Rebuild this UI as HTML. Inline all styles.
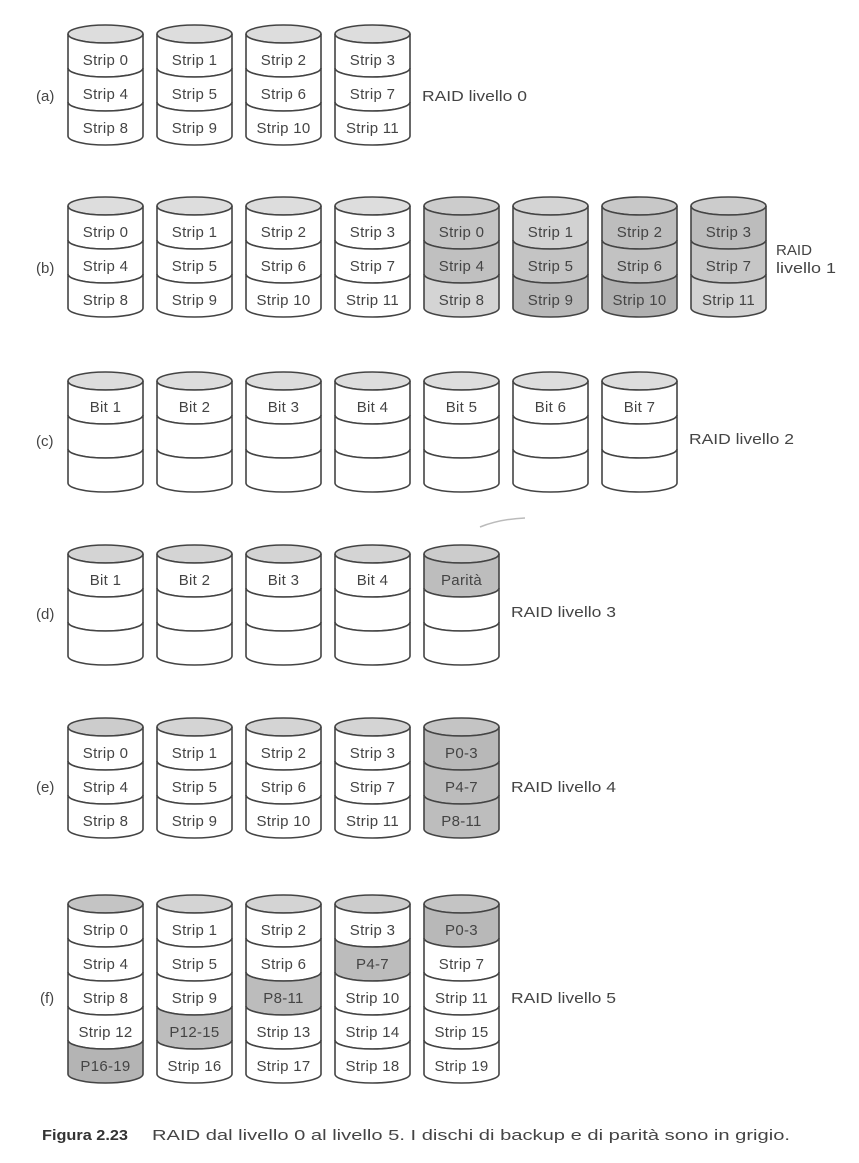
<!DOCTYPE html>
<html><head><meta charset="utf-8"><style>
html,body{margin:0;padding:0;background:#fff;}
svg{display:block;}
text{font-family:"Liberation Sans",sans-serif;fill:#444;font-size:15px;}
.t{text-anchor:middle;letter-spacing:0.3px;}
.b{stroke:#444;stroke-width:1.6;}
</style></head><body>
<svg width="859" height="1163" viewBox="0 0 859 1163" xmlns="http://www.w3.org/2000/svg">
<defs>
<path id="bd" d="M0,0 A37.5,9 0 0 0 75,0 V34 A37.5,9 0 0 1 0,34 Z"/>
<ellipse id="tp" cx="37.5" cy="0" rx="37.5" ry="9"/>
</defs>
<g class="b">
<g transform="translate(68,34)"><use href="#tp" fill="#ddd"/><use href="#bd" fill="#fff"/><use href="#bd" y="34" fill="#fff"/><use href="#bd" y="68" fill="#fff"/></g>
<g transform="translate(157,34)"><use href="#tp" fill="#ddd"/><use href="#bd" fill="#fff"/><use href="#bd" y="34" fill="#fff"/><use href="#bd" y="68" fill="#fff"/></g>
<g transform="translate(246,34)"><use href="#tp" fill="#ddd"/><use href="#bd" fill="#fff"/><use href="#bd" y="34" fill="#fff"/><use href="#bd" y="68" fill="#fff"/></g>
<g transform="translate(335,34)"><use href="#tp" fill="#ddd"/><use href="#bd" fill="#fff"/><use href="#bd" y="34" fill="#fff"/><use href="#bd" y="68" fill="#fff"/></g>
<g transform="translate(68,206)"><use href="#tp" fill="#ddd"/><use href="#bd" fill="#fff"/><use href="#bd" y="34" fill="#fff"/><use href="#bd" y="68" fill="#fff"/></g>
<g transform="translate(157,206)"><use href="#tp" fill="#ddd"/><use href="#bd" fill="#fff"/><use href="#bd" y="34" fill="#fff"/><use href="#bd" y="68" fill="#fff"/></g>
<g transform="translate(246,206)"><use href="#tp" fill="#ddd"/><use href="#bd" fill="#fff"/><use href="#bd" y="34" fill="#fff"/><use href="#bd" y="68" fill="#fff"/></g>
<g transform="translate(335,206)"><use href="#tp" fill="#ddd"/><use href="#bd" fill="#fff"/><use href="#bd" y="34" fill="#fff"/><use href="#bd" y="68" fill="#fff"/></g>
<g transform="translate(424,206)"><use href="#tp" fill="#ccc"/><use href="#bd" fill="#c4c4c4"/><use href="#bd" y="34" fill="#c0c0c0"/><use href="#bd" y="68" fill="#d4d4d4"/></g>
<g transform="translate(513,206)"><use href="#tp" fill="#d4d4d4"/><use href="#bd" fill="#d2d2d2"/><use href="#bd" y="34" fill="#c4c4c4"/><use href="#bd" y="68" fill="#b8b8b8"/></g>
<g transform="translate(602,206)"><use href="#tp" fill="#c8c8c8"/><use href="#bd" fill="#bdbdbd"/><use href="#bd" y="34" fill="#c2c2c2"/><use href="#bd" y="68" fill="#b0b0b0"/></g>
<g transform="translate(691,206)"><use href="#tp" fill="#ccc"/><use href="#bd" fill="#bcbcbc"/><use href="#bd" y="34" fill="#c6c6c6"/><use href="#bd" y="68" fill="#d2d2d2"/></g>
<g transform="translate(68,381)"><use href="#tp" fill="#ddd"/><use href="#bd" fill="#fff"/><use href="#bd" y="34" fill="#fff"/><use href="#bd" y="68" fill="#fff"/></g>
<g transform="translate(157,381)"><use href="#tp" fill="#ddd"/><use href="#bd" fill="#fff"/><use href="#bd" y="34" fill="#fff"/><use href="#bd" y="68" fill="#fff"/></g>
<g transform="translate(246,381)"><use href="#tp" fill="#ddd"/><use href="#bd" fill="#fff"/><use href="#bd" y="34" fill="#fff"/><use href="#bd" y="68" fill="#fff"/></g>
<g transform="translate(335,381)"><use href="#tp" fill="#ddd"/><use href="#bd" fill="#fff"/><use href="#bd" y="34" fill="#fff"/><use href="#bd" y="68" fill="#fff"/></g>
<g transform="translate(424,381)"><use href="#tp" fill="#ddd"/><use href="#bd" fill="#fff"/><use href="#bd" y="34" fill="#fff"/><use href="#bd" y="68" fill="#fff"/></g>
<g transform="translate(513,381)"><use href="#tp" fill="#ddd"/><use href="#bd" fill="#fff"/><use href="#bd" y="34" fill="#fff"/><use href="#bd" y="68" fill="#fff"/></g>
<g transform="translate(602,381)"><use href="#tp" fill="#ddd"/><use href="#bd" fill="#fff"/><use href="#bd" y="34" fill="#fff"/><use href="#bd" y="68" fill="#fff"/></g>
<g transform="translate(68,554)"><use href="#tp" fill="#d4d4d4"/><use href="#bd" fill="#fff"/><use href="#bd" y="34" fill="#fff"/><use href="#bd" y="68" fill="#fff"/></g>
<g transform="translate(157,554)"><use href="#tp" fill="#d4d4d4"/><use href="#bd" fill="#fff"/><use href="#bd" y="34" fill="#fff"/><use href="#bd" y="68" fill="#fff"/></g>
<g transform="translate(246,554)"><use href="#tp" fill="#d4d4d4"/><use href="#bd" fill="#fff"/><use href="#bd" y="34" fill="#fff"/><use href="#bd" y="68" fill="#fff"/></g>
<g transform="translate(335,554)"><use href="#tp" fill="#d4d4d4"/><use href="#bd" fill="#fff"/><use href="#bd" y="34" fill="#fff"/><use href="#bd" y="68" fill="#fff"/></g>
<g transform="translate(424,554)"><use href="#tp" fill="#ccc"/><use href="#bd" fill="#bdbdbd"/><use href="#bd" y="34" fill="#fff"/><use href="#bd" y="68" fill="#fff"/></g>
<g transform="translate(68,727)"><use href="#tp" fill="#ccc"/><use href="#bd" fill="#fff"/><use href="#bd" y="34" fill="#fff"/><use href="#bd" y="68" fill="#fff"/></g>
<g transform="translate(157,727)"><use href="#tp" fill="#d4d4d4"/><use href="#bd" fill="#fff"/><use href="#bd" y="34" fill="#fff"/><use href="#bd" y="68" fill="#fff"/></g>
<g transform="translate(246,727)"><use href="#tp" fill="#d4d4d4"/><use href="#bd" fill="#fff"/><use href="#bd" y="34" fill="#fff"/><use href="#bd" y="68" fill="#fff"/></g>
<g transform="translate(335,727)"><use href="#tp" fill="#d4d4d4"/><use href="#bd" fill="#fff"/><use href="#bd" y="34" fill="#fff"/><use href="#bd" y="68" fill="#fff"/></g>
<g transform="translate(424,727)"><use href="#tp" fill="#c4c4c4"/><use href="#bd" fill="#b8b8b8"/><use href="#bd" y="34" fill="#bcbcbc"/><use href="#bd" y="68" fill="#bdbdbd"/></g>
<g transform="translate(68,904)"><use href="#tp" fill="#c4c4c4"/><use href="#bd" fill="#fff"/><use href="#bd" y="34" fill="#fff"/><use href="#bd" y="68" fill="#fff"/><use href="#bd" y="102" fill="#fff"/><use href="#bd" y="136" fill="#b4b4b4"/></g>
<g transform="translate(157,904)"><use href="#tp" fill="#d4d4d4"/><use href="#bd" fill="#fff"/><use href="#bd" y="34" fill="#fff"/><use href="#bd" y="68" fill="#fff"/><use href="#bd" y="102" fill="#bdbdbd"/><use href="#bd" y="136" fill="#fff"/></g>
<g transform="translate(246,904)"><use href="#tp" fill="#d4d4d4"/><use href="#bd" fill="#fff"/><use href="#bd" y="34" fill="#fff"/><use href="#bd" y="68" fill="#bcbcbc"/><use href="#bd" y="102" fill="#fff"/><use href="#bd" y="136" fill="#fff"/></g>
<g transform="translate(335,904)"><use href="#tp" fill="#ccc"/><use href="#bd" fill="#fff"/><use href="#bd" y="34" fill="#bcbcbc"/><use href="#bd" y="68" fill="#fff"/><use href="#bd" y="102" fill="#fff"/><use href="#bd" y="136" fill="#fff"/></g>
<g transform="translate(424,904)"><use href="#tp" fill="#c4c4c4"/><use href="#bd" fill="#b8b8b8"/><use href="#bd" y="34" fill="#fff"/><use href="#bd" y="68" fill="#fff"/><use href="#bd" y="102" fill="#fff"/><use href="#bd" y="136" fill="#fff"/></g>
</g>
<path d="M480,527 Q500,519 525,518" stroke="#bbb" stroke-width="1.5" fill="none"/>

<text class="t" x="105.5" y="65">Strip 0</text><text class="t" x="194.5" y="65">Strip 1</text><text class="t" x="283.5" y="65">Strip 2</text><text class="t" x="372.5" y="65">Strip 3</text>
<text class="t" x="105.5" y="99">Strip 4</text><text class="t" x="194.5" y="99">Strip 5</text><text class="t" x="283.5" y="99">Strip 6</text><text class="t" x="372.5" y="99">Strip 7</text>
<text class="t" x="105.5" y="133">Strip 8</text><text class="t" x="194.5" y="133">Strip 9</text><text class="t" x="283.5" y="133">Strip 10</text><text class="t" x="372.5" y="133">Strip 11</text>
<text x="36" y="101">(a)</text><text x="422" y="101" textLength="105" lengthAdjust="spacingAndGlyphs">RAID livello 0</text>
<text class="t" x="105.5" y="237">Strip 0</text><text class="t" x="194.5" y="237">Strip 1</text><text class="t" x="283.5" y="237">Strip 2</text><text class="t" x="372.5" y="237">Strip 3</text><text class="t" x="461.5" y="237">Strip 0</text><text class="t" x="550.5" y="237">Strip 1</text><text class="t" x="639.5" y="237">Strip 2</text><text class="t" x="728.5" y="237">Strip 3</text>
<text class="t" x="105.5" y="271">Strip 4</text><text class="t" x="194.5" y="271">Strip 5</text><text class="t" x="283.5" y="271">Strip 6</text><text class="t" x="372.5" y="271">Strip 7</text><text class="t" x="461.5" y="271">Strip 4</text><text class="t" x="550.5" y="271">Strip 5</text><text class="t" x="639.5" y="271">Strip 6</text><text class="t" x="728.5" y="271">Strip 7</text>
<text class="t" x="105.5" y="305">Strip 8</text><text class="t" x="194.5" y="305">Strip 9</text><text class="t" x="283.5" y="305">Strip 10</text><text class="t" x="372.5" y="305">Strip 11</text><text class="t" x="461.5" y="305">Strip 8</text><text class="t" x="550.5" y="305">Strip 9</text><text class="t" x="639.5" y="305">Strip 10</text><text class="t" x="728.5" y="305">Strip 11</text>
<text x="36" y="273">(b)</text><text x="776" y="255" textLength="36" lengthAdjust="spacingAndGlyphs">RAID</text><text x="776" y="273" textLength="60" lengthAdjust="spacingAndGlyphs">livello 1</text>
<text class="t" x="105.5" y="412">Bit 1</text><text class="t" x="194.5" y="412">Bit 2</text><text class="t" x="283.5" y="412">Bit 3</text><text class="t" x="372.5" y="412">Bit 4</text><text class="t" x="461.5" y="412">Bit 5</text><text class="t" x="550.5" y="412">Bit 6</text><text class="t" x="639.5" y="412">Bit 7</text>
<text x="36" y="446">(c)</text><text x="689" y="444" textLength="105" lengthAdjust="spacingAndGlyphs">RAID livello 2</text>
<text class="t" x="105.5" y="585">Bit 1</text><text class="t" x="194.5" y="585">Bit 2</text><text class="t" x="283.5" y="585">Bit 3</text><text class="t" x="372.5" y="585">Bit 4</text><text class="t" x="461.5" y="585">Parità</text>
<text x="36" y="619">(d)</text><text x="511" y="617" textLength="105" lengthAdjust="spacingAndGlyphs">RAID livello 3</text>
<text class="t" x="105.5" y="758">Strip 0</text><text class="t" x="194.5" y="758">Strip 1</text><text class="t" x="283.5" y="758">Strip 2</text><text class="t" x="372.5" y="758">Strip 3</text><text class="t" x="461.5" y="758">P0-3</text>
<text class="t" x="105.5" y="792">Strip 4</text><text class="t" x="194.5" y="792">Strip 5</text><text class="t" x="283.5" y="792">Strip 6</text><text class="t" x="372.5" y="792">Strip 7</text><text class="t" x="461.5" y="792">P4-7</text>
<text class="t" x="105.5" y="826">Strip 8</text><text class="t" x="194.5" y="826">Strip 9</text><text class="t" x="283.5" y="826">Strip 10</text><text class="t" x="372.5" y="826">Strip 11</text><text class="t" x="461.5" y="826">P8-11</text>
<text x="36" y="792">(e)</text><text x="511" y="792" textLength="105" lengthAdjust="spacingAndGlyphs">RAID livello 4</text>
<text class="t" x="105.5" y="935">Strip 0</text><text class="t" x="194.5" y="935">Strip 1</text><text class="t" x="283.5" y="935">Strip 2</text><text class="t" x="372.5" y="935">Strip 3</text><text class="t" x="461.5" y="935">P0-3</text>
<text class="t" x="105.5" y="969">Strip 4</text><text class="t" x="194.5" y="969">Strip 5</text><text class="t" x="283.5" y="969">Strip 6</text><text class="t" x="372.5" y="969">P4-7</text><text class="t" x="461.5" y="969">Strip 7</text>
<text class="t" x="105.5" y="1003">Strip 8</text><text class="t" x="194.5" y="1003">Strip 9</text><text class="t" x="283.5" y="1003">P8-11</text><text class="t" x="372.5" y="1003">Strip 10</text><text class="t" x="461.5" y="1003">Strip 11</text>
<text class="t" x="105.5" y="1037">Strip 12</text><text class="t" x="194.5" y="1037">P12-15</text><text class="t" x="283.5" y="1037">Strip 13</text><text class="t" x="372.5" y="1037">Strip 14</text><text class="t" x="461.5" y="1037">Strip 15</text>
<text class="t" x="105.5" y="1071">P16-19</text><text class="t" x="194.5" y="1071">Strip 16</text><text class="t" x="283.5" y="1071">Strip 17</text><text class="t" x="372.5" y="1071">Strip 18</text><text class="t" x="461.5" y="1071">Strip 19</text>
<text x="40" y="1003">(f)</text><text x="511" y="1003" textLength="105" lengthAdjust="spacingAndGlyphs">RAID livello 5</text>
<text x="42" y="1140" textLength="86" lengthAdjust="spacingAndGlyphs" style="font-size:15px;font-weight:bold;fill:#333">Figura 2.23</text>
<text x="152" y="1140" textLength="638" lengthAdjust="spacingAndGlyphs" style="font-size:15px;fill:#444">RAID dal livello 0 al livello 5. I dischi di backup e di parità sono in grigio.</text>
</svg>
</body></html>
